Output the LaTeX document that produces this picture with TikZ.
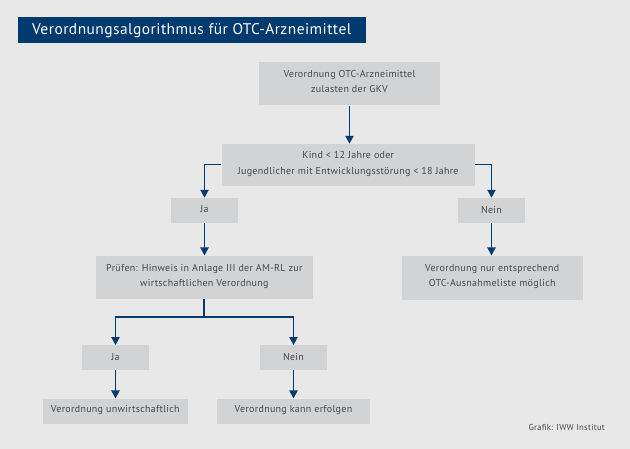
\documentclass[tikz,border=0pt]{standalone}
\usepackage{fontspec}
\setmainfont{PT Sans}[LetterSpace=3]
\usetikzlibrary{arrows.meta}
\definecolor{bgc}{HTML}{E8E8E9}
\definecolor{boxc}{HTML}{D2D3D4}
\definecolor{navy}{HTML}{003A6E}
\definecolor{txt}{HTML}{43484E}
\tikzset{
  bx/.style={fill=boxc,text=txt,inner sep=0pt,align=center,font=\fontsize{10}{15.5}\selectfont},
  conn/.style={draw=navy,line width=1.9pt,-{Triangle[length=8pt,width=8pt]}},
  stem/.style={draw=navy,line width=1.9pt},
}
\newcommand{\pbox}[6]{\node[bx,minimum width=#3 pt-#2 pt,minimum height=#5 pt-#4 pt] (#1) at ({(#2+#3)/2},{(#4+#5)/2}) {#6};}
\newcommand{\liftb}{\rule[-4.5pt]{0pt}{0pt}}
\newcommand{\lifta}{\rule[-3.5pt]{0pt}{0pt}}
\newcommand{\liftc}{\rule[-2pt]{0pt}{0pt}}
\begin{document}
\begin{tikzpicture}[x=1pt,y=-1pt]
\fill[bgc] (0,0) rectangle (630,449);
\useasboundingbox (0,0) rectangle (630,449);
\node[fill=navy,text=white,inner sep=0pt,minimum width=348.5pt,minimum height=26pt,font=\fontsize{15.45}{18}\selectfont] (title) at (191.75,30.5) {Verordnungsalgorithmus für OTC-Arzneimittel};
\pbox{top}{259}{440}{62}{105.5}{Verordnung OTC-Arzneimittel\\zulasten der GKV\liftb}
\pbox{cond}{221.5}{475}{144}{186.5}{Kind < 12 Jahre oder\\Jugendlicher mit Entwicklungsstörung < 18 Jahre\liftb}
\pbox{jaa}{171}{238}{198}{223}{Ja\liftc}
\pbox{neina}{458}{525}{198}{223}{Nein\liftc}
\pbox{rightend}{401.7}{582.7}{255.7}{299.7}{Verordnung nur entsprechend\\OTC-Ausnahmeliste möglich\liftb}
\pbox{pruef}{95.7}{313}{255.7}{299.3}{Prüfen: Hinweis in Anlage III der AM-RL zur\\wirtschaftlichen Verordnung\liftb}
\pbox{jab}{82}{149}{345.3}{370.3}{Ja\liftc}
\pbox{neinb}{260}{327}{345.3}{370.3}{Nein\liftc}
\pbox{vone}{43}{187.7}{398.7}{423.7}{Verordnung unwirtschaftlich\lifta}
\pbox{vtwo}{217.3}{369.7}{398.7}{423.7}{Verordnung kann erfolgen\lifta}
\node[text=txt,inner sep=0pt,font=\fontsize{8.65}{10}\selectfont] (credit) at (566.7,427.2) {Grafik: IWW Institut};
\coordinate (fork) at (204,316.7);
\coordinate (cl) at ([yshift=0.7pt]cond.west);
\coordinate (cr) at ([yshift=0.7pt]cond.east);
\draw[conn] (top.south) -- (cond.north -| top.south);
\draw[conn] (cl) -| (jaa.north);
\draw[conn] (cr) -| (neina.north);
\draw[conn] (jaa.south) -- (pruef.north -| jaa.south);
\draw[conn] (neina.south) -- (rightend.north -| neina.south);
\draw[stem] (pruef.south -| fork) -- (fork);
\draw[conn] (fork) -| (jab.north);
\draw[conn] (fork) -| (neinb.north);
\draw[conn] (jab.south) -- (vone.north -| jab.south);
\draw[conn] (neinb.south) -- (vtwo.north -| neinb.south);
\end{tikzpicture}
\end{document}
